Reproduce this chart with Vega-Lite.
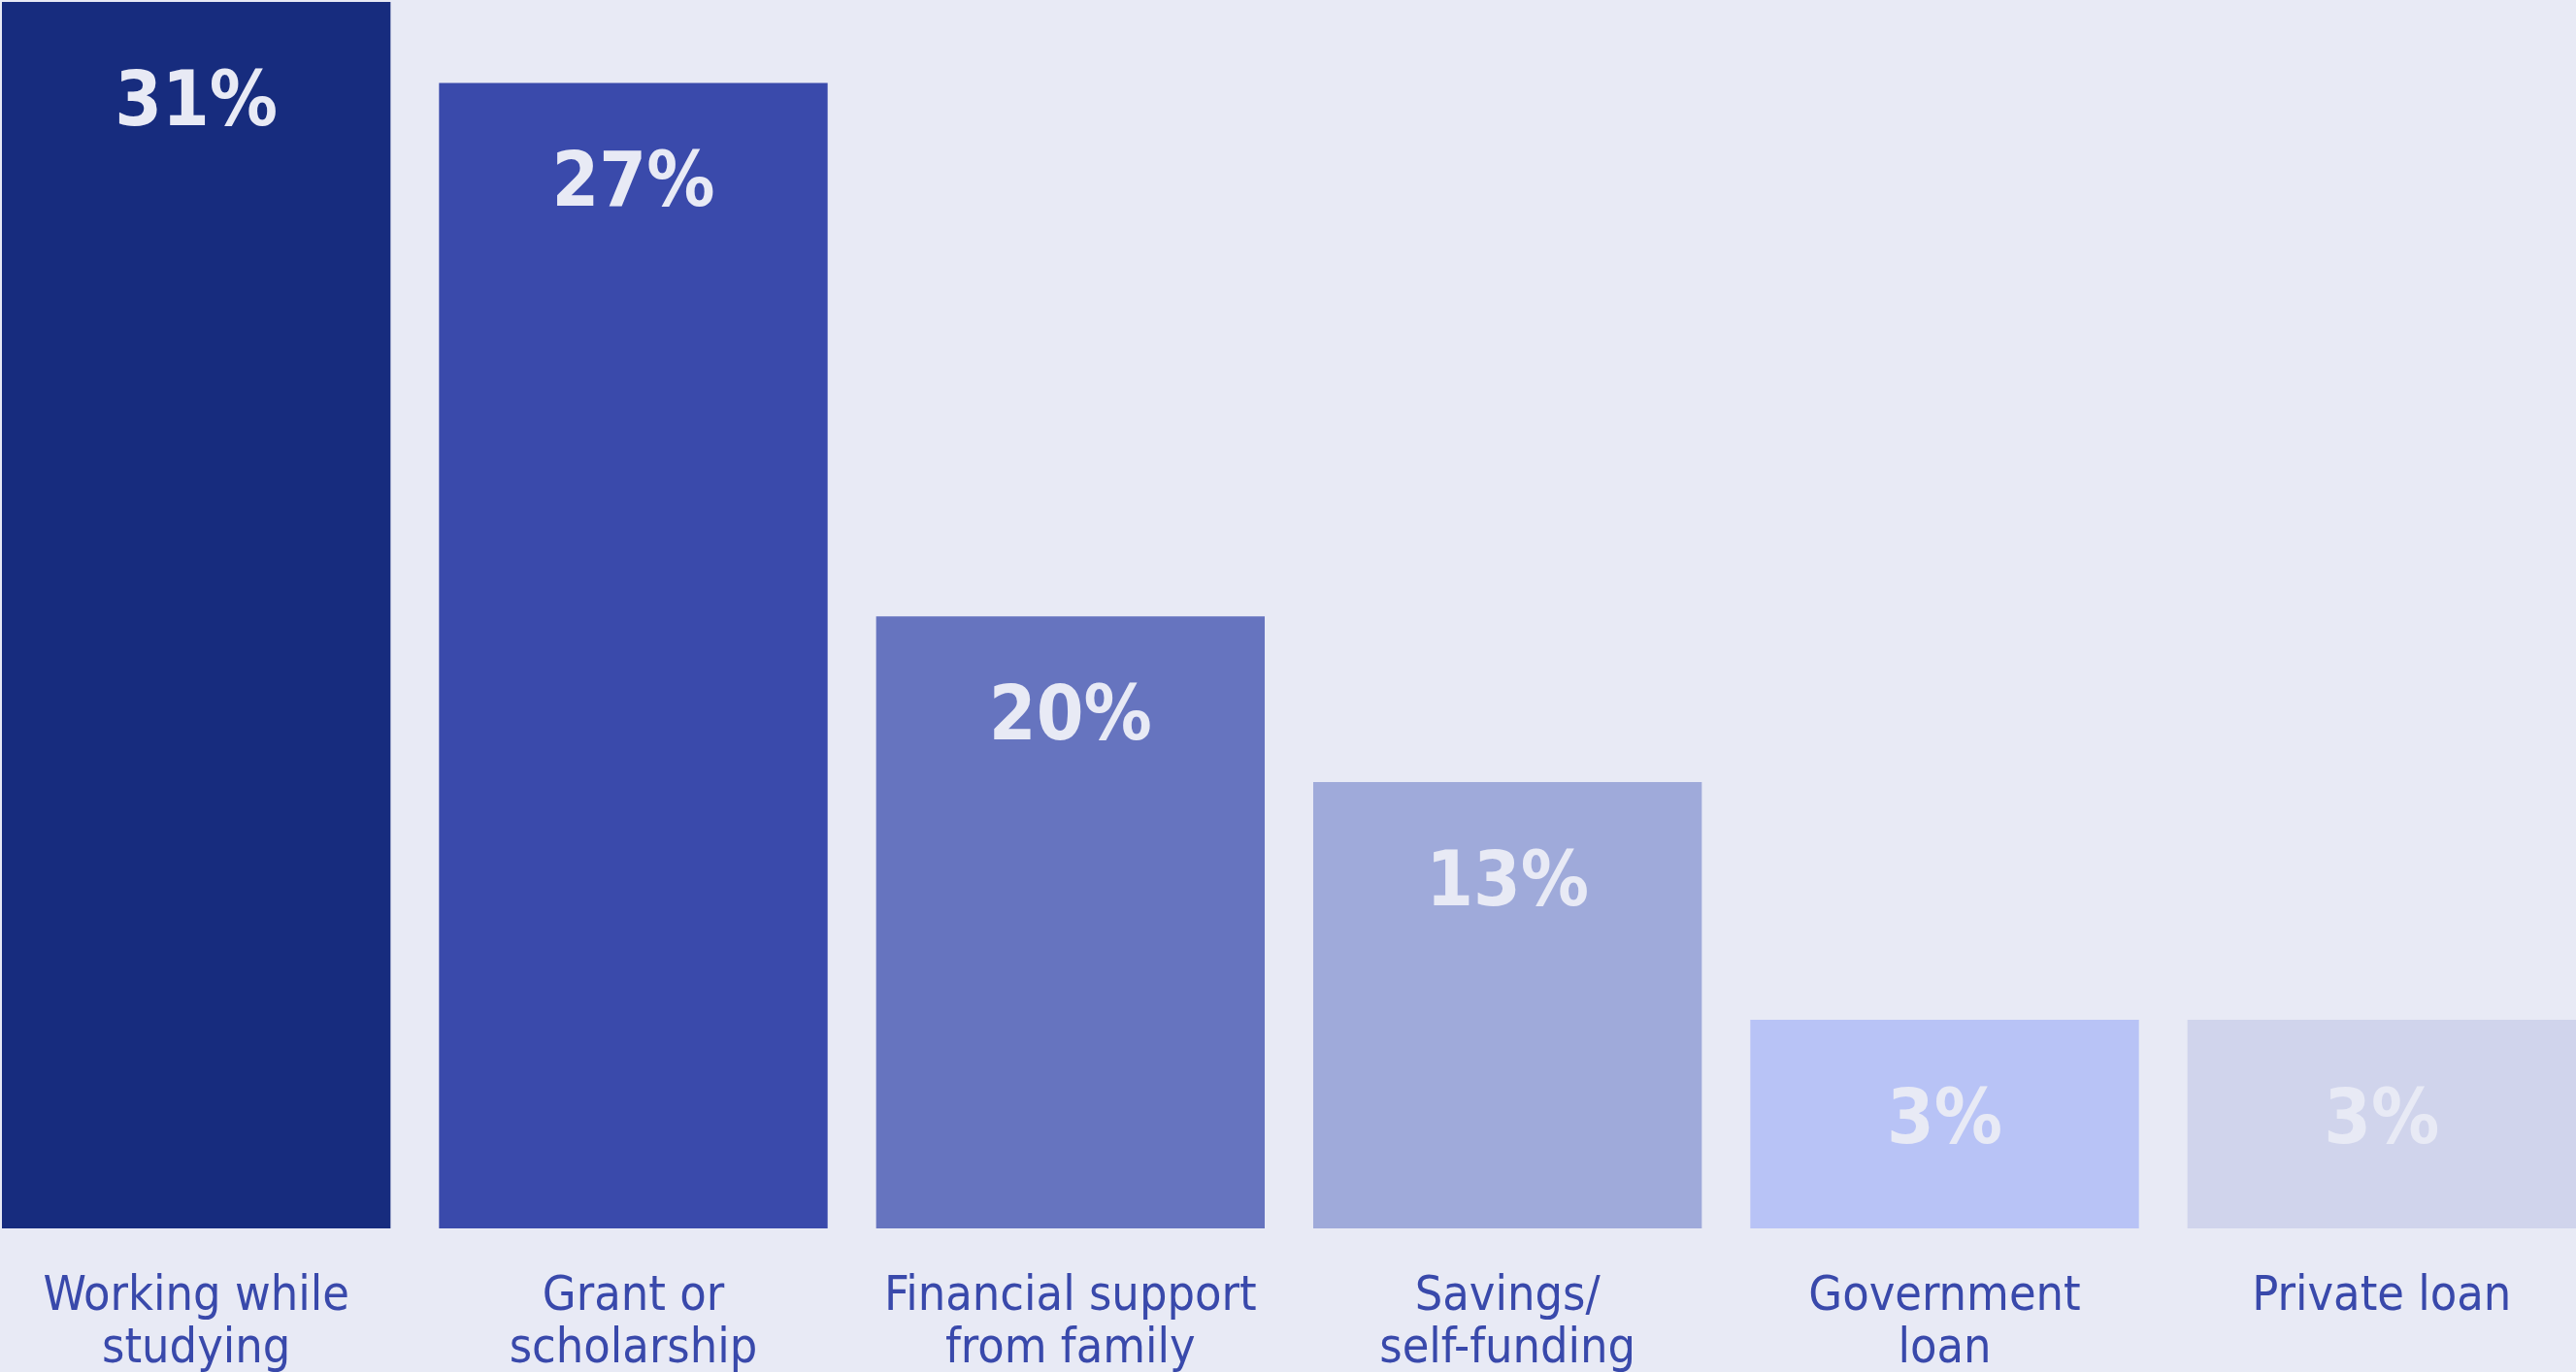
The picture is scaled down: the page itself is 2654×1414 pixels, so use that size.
{
  "$schema": "https://vega.github.io/schema/vega-lite/v6.json",
  "width": 2652,
  "height": 1264,
  "autosize": "none",
  "padding": {"left": 2, "top": 2, "right": 0, "bottom": 148},
  "background": "#e8eaf5",
  "config": {"view": {"stroke": null}},
  "data": {
    "values": [
      {"category": "Working while|studying", "share": 0.31, "bar": 100},
      {"category": "Grant or|scholarship", "share": 0.27, "bar": 93.4},
      {"category": "Financial support|from family", "share": 0.20, "bar": 49.9},
      {"category": "Savings/|self-funding", "share": 0.13, "bar": 36.4},
      {"category": "Government|loan", "share": 0.03, "bar": 17.0},
      {"category": "Private loan", "share": 0.03, "bar": 17.0}
    ]
  },
  "encoding": {
    "x": {
      "field": "category",
      "type": "nominal",
      "sort": null,
      "scale": {"paddingInner": 0.111, "paddingOuter": 0},
      "axis": {
        "title": null,
        "domain": false,
        "ticks": false,
        "labelAngle": 0,
        "labelExpr": "split(datum.label, '|')",
        "labelFont": "DejaVu Sans Condensed",
        "labelFontSize": 50,
        "labelColor": "#3949ab",
        "labelPadding": 43,
        "labelLineHeight": 54,
        "labelBaseline": "top",
        "labelLimit": 0
      }
    },
    "y": {
      "field": "bar",
      "type": "quantitative",
      "scale": {"domain": [0, 100], "nice": false},
      "axis": null
    }
  },
  "layer": [
    {
      "mark": {"type": "bar"},
      "encoding": {
        "color": {
          "field": "category",
          "type": "nominal",
          "sort": null,
          "scale": {"range": ["#172c7e", "#3a4aab", "#6674bf", "#9faada", "#b8c3f6", "#d0d4ec"]},
          "legend": null
        }
      }
    },
    {
      "mark": {
        "type": "text",
        "font": "DejaVu Sans Condensed",
        "fontWeight": "bold",
        "fontSize": 78,
        "color": "#e8eaf5",
        "baseline": "alphabetic",
        "dy": 127
      },
      "encoding": {
        "text": {"field": "share", "type": "quantitative", "format": ".0%"}
      }
    }
  ]
}
